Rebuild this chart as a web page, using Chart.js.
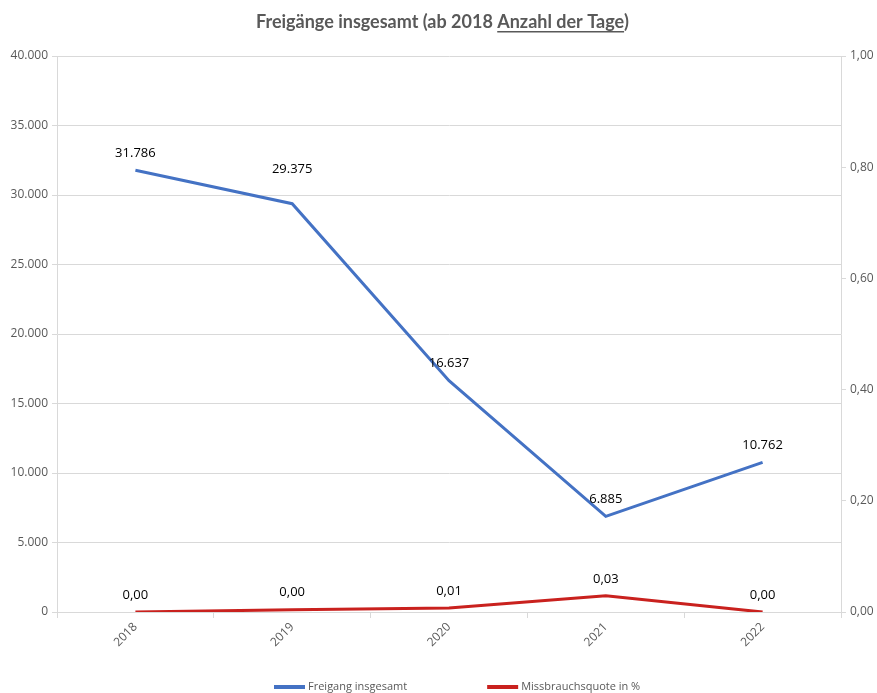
<!DOCTYPE html>
<html>
<head>
<meta charset="utf-8">
<script src="https://cdn.jsdelivr.net/npm/chart.js@4"></script>
<style>
  html, body { margin: 0; padding: 0; background: #fff; overflow: hidden; }
  #wrap { position: relative; width: 877px; height: 693px; }
</style>
</head>
<body>
<div id="wrap"><canvas id="c"></canvas></div>
<script>
// Jahre und Werte
const years = ['2018', '2019', '2020', '2021', '2022'];
const freigaenge = [31786, 29375, 16637, 6885, 10762];
const missbrauchsquote = [0.000, 0.004, 0.007, 0.029, 0.000];

// Achsenbereiche
const leftAxisMax = 40000;
const leftAxisStep = 5000;
const rightAxisMax = 1;
const rightAxisStep = 0.2;

const titleParts = ['Freigänge insgesamt (ab 2018 ', 'Anzahl der Tage', ')'];
const seriesNames = ['Freigang insgesamt', 'Missbrauchsquote in %'];

const GRID = '#d9d9d9';
const AXIS_TEXT = '#595959';
const FONT = '"Open Sans", "DejaVu Sans", sans-serif';

function fmtThousands(v) {
  return String(Math.round(v)).replace(/\B(?=(\d{3})+(?!\d))/g, '.');
}
function fmtDecimal(v) {
  return v.toFixed(2).replace('.', ',');
}

// Titel mit unterstrichenem Teil
const titlePlugin = {
  id: 'underlinedTitle',
  afterDraw(chart) {
    const ctx = chart.ctx;
    ctx.save();
    ctx.font = 'bold 18px Lato, "Open Sans", sans-serif';
    ctx.fillStyle = AXIS_TEXT;
    ctx.textBaseline = 'alphabetic';
    const widths = titleParts.map(t => ctx.measureText(t).width);
    const total = widths.reduce((a, b) => a + b, 0);
    let x = chart.width / 2 - total / 2 + 4;
    const y = 28;
    titleParts.forEach((t, i) => {
      ctx.fillText(t, x, y);
      if (i === 1) {
        ctx.fillRect(x, y + 3, widths[i], 1.5);
      }
      x += widths[i];
    });
    ctx.restore();
  }
};

// Wertbeschriftungen über den Punkten
const valueLabelPlugin = {
  id: 'valueLabels',
  afterDatasetsDraw(chart, args, opts) {
    const ctx = chart.ctx;
    ctx.save();
    ctx.font = '13px ' + FONT;
    ctx.fillStyle = '#000';
    ctx.textAlign = 'center';
    ctx.textBaseline = 'middle';
    chart.data.datasets.forEach((ds, di) => {
      const meta = chart.getDatasetMeta(di);
      const fmt = di === 0 ? fmtThousands : fmtDecimal;
      const extra = (opts.extraLift && opts.extraLift[di]) || {};
      meta.data.forEach((pt, i) => {
        const lift = 17 + (extra[i] || 0);
        ctx.fillText(fmt(ds.data[i]), pt.x, pt.y - lift);
      });
    });
    ctx.restore();
  }
};

// Legende unten
const legendPlugin = {
  id: 'bottomLegend',
  afterDraw(chart) {
    const ctx = chart.ctx;
    ctx.save();
    ctx.font = '11px ' + FONT;
    ctx.textBaseline = 'middle';
    const y = 687;
    let x = 274;
    chart.data.datasets.forEach((ds) => {
      ctx.fillStyle = ds.borderColor;
      ctx.fillRect(x, y - 2, 31, 4);
      x += 34;
      ctx.fillStyle = AXIS_TEXT;
      ctx.fillText(ds.label, x, y);
      x += ctx.measureText(ds.label).width + 80;
    });
    ctx.restore();
  }
};

new Chart(document.getElementById('c'), {
  type: 'line',
  data: {
    labels: years,
    datasets: [
      {
        label: seriesNames[0],
        data: freigaenge,
        yAxisID: 'y',
        borderColor: '#4472C4',
        backgroundColor: '#4472C4',
        borderWidth: 3,
        pointRadius: 0,
        tension: 0
      },
      {
        label: seriesNames[1],
        data: missbrauchsquote,
        yAxisID: 'y1',
        borderColor: '#C9211E',
        backgroundColor: '#C9211E',
        borderWidth: 3,
        pointRadius: 0,
        tension: 0
      }
    ]
  },
  options: {
    responsive: true,
    maintainAspectRatio: false,
    animation: false,
    layout: { padding: { top: 56, left: 0, right: 0, bottom: 0 } },
    plugins: {
      legend: { display: false },
      title: { display: false },
      tooltip: { enabled: false },
      valueLabels: { extraLift: { 0: { 1: 17 } } }
    },
    scales: {
      x: {
        offset: true,
        grid: { offset: true, drawOnChartArea: false, drawTicks: true, tickLength: 6, color: GRID },
        border: { color: GRID },
        ticks: {
          minRotation: 45, maxRotation: 45,
          color: AXIS_TEXT,
          font: { family: FONT, size: 12 },
          padding: 2
        },
        afterFit(s) { s.height = 81; }
      },
      y: {
        position: 'left',
        min: 0, max: leftAxisMax,
        grid: { color: GRID, tickLength: 5 },
        border: { color: GRID },
        ticks: {
          stepSize: leftAxisStep,
          color: AXIS_TEXT,
          font: { family: FONT, size: 12 },
          padding: 4,
          callback: v => fmtThousands(v)
        },
        afterFit(s) { s.width = 57; }
      },
      y1: {
        position: 'right',
        min: 0, max: rightAxisMax,
        grid: { drawOnChartArea: false, color: GRID, tickLength: 5 },
        border: { color: GRID },
        ticks: {
          stepSize: rightAxisStep,
          color: AXIS_TEXT,
          font: { family: FONT, size: 12 },
          padding: 4,
          callback: v => fmtDecimal(v)
        },
        afterFit(s) { s.width = 36; }
      }
    }
  },
  plugins: [titlePlugin, valueLabelPlugin, legendPlugin]
});
</script>
</body>
</html>
